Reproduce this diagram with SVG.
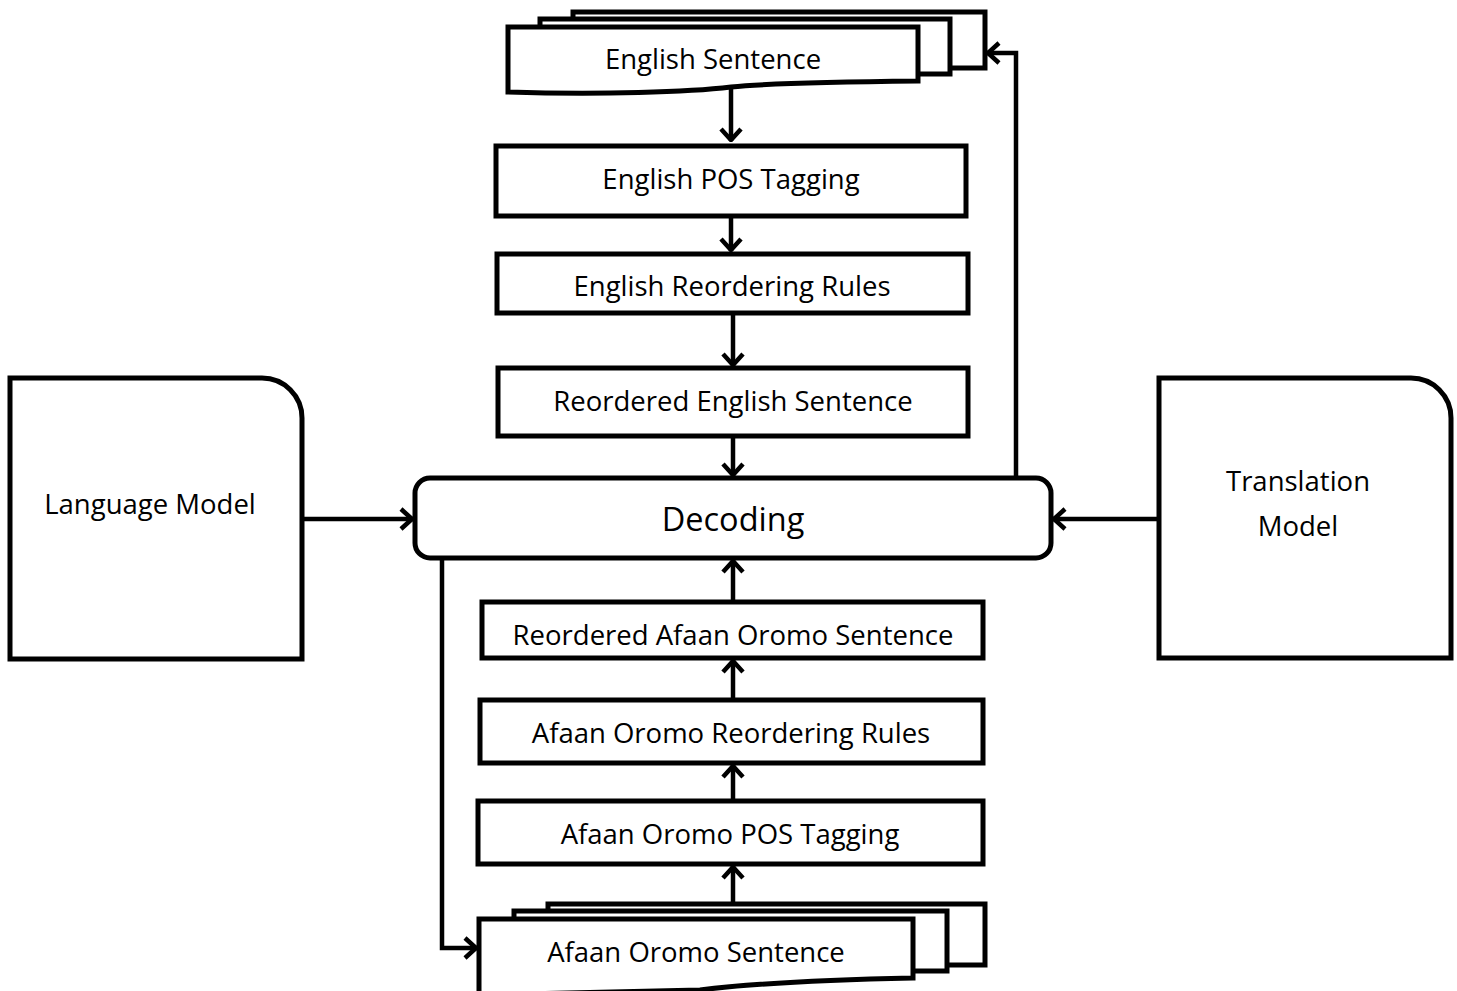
<svg xmlns="http://www.w3.org/2000/svg" width="1457" height="991" viewBox="0 0 1457 991">
<style>
.s{fill:#fff;stroke:#000;stroke-width:5;stroke-linejoin:miter}
.t{font-family:"Open Sans","Noto Sans",sans-serif;font-size:27.5px;fill:#000;text-anchor:middle}
.c{fill:none;stroke:#000;stroke-width:4.5}
</style>
<defs>
<marker id="a" viewBox="0 0 15 24" refX="14" refY="12" markerWidth="15" markerHeight="24" markerUnits="userSpaceOnUse" orient="auto">
<path d="M2,2 L13,12 L2,22" fill="none" stroke="#000" stroke-width="4.5"/>
</marker>
</defs>
<rect width="1457" height="991" fill="#fff"/>
<g id="english-sentence">
<rect class="s" x="573" y="12" width="412" height="56"/>
<rect class="s" x="540" y="19" width="410" height="55"/>
<path class="s" d="M508,27 H918 V81 C820,82 760,84 731,87 C690,92 600,95 508,92 Z"/>
<text class="t" x="713" y="69">English Sentence</text>
</g>
<g id="english-pos">
<rect class="s" x="496" y="146" width="470" height="70"/>
<text class="t" x="731" y="189">English POS Tagging</text>
</g>
<g id="english-reorder">
<rect class="s" x="497" y="254" width="471" height="59"/>
<text class="t" x="732" y="296">English Reordering Rules</text>
</g>
<g id="reordered-english">
<rect class="s" x="498" y="368" width="470" height="68"/>
<text class="t" x="733" y="411">Reordered English Sentence</text>
</g>
<g id="decoding">
<rect class="s" x="415" y="478" width="636" height="80" rx="15"/>
<text class="t" x="733" y="531" style="font-size:32.5px">Decoding</text>
</g>
<g id="language-model">
<path class="s" d="M10,378 H262 A40,40 0 0 1 302,418 V659 H10 Z"/>
<text class="t" x="150" y="514">Language Model</text>
</g>
<g id="translation-model">
<path class="s" d="M1159,378 H1411 A40,40 0 0 1 1451,418 V658 H1159 Z"/>
<text class="t" x="1298" y="491">Translation</text>
<text class="t" x="1298" y="536">Model</text>
</g>
<g id="reordered-oromo">
<rect class="s" x="482" y="602" width="501" height="56"/>
<text class="t" x="733" y="645">Reordered Afaan Oromo Sentence</text>
</g>
<g id="oromo-reorder">
<rect class="s" x="480" y="700" width="503" height="63"/>
<text class="t" x="731" y="743">Afaan Oromo Reordering Rules</text>
</g>
<g id="oromo-pos">
<rect class="s" x="478" y="801" width="505" height="63"/>
<text class="t" x="730" y="844">Afaan Oromo POS Tagging</text>
</g>
<g id="oromo-sentence">
<rect class="s" x="548" y="904" width="437" height="61"/>
<rect class="s" x="514" y="911" width="433" height="60"/>
<path class="s" d="M479,919 H913 V978 C820,980 740,985 700,990 L479,995 Z"/>
<text class="t" x="696" y="962">Afaan Oromo Sentence</text>
</g>
<g id="connectors">
<line class="c" x1="731" y1="88" x2="731" y2="141" marker-end="url(#a)"/>
<line class="c" x1="731" y1="216" x2="731" y2="251" marker-end="url(#a)"/>
<line class="c" x1="733" y1="313" x2="733" y2="366" marker-end="url(#a)"/>
<line class="c" x1="733" y1="436" x2="733" y2="476" marker-end="url(#a)"/>
<line class="c" x1="302" y1="519" x2="413" y2="519" marker-end="url(#a)"/>
<line class="c" x1="1158" y1="519" x2="1053" y2="519" marker-end="url(#a)"/>
<polyline class="c" points="1016,476 1016,53 987,53" marker-end="url(#a)"/>
<polyline class="c" points="442,560 442,948 477,948" marker-end="url(#a)"/>
<line class="c" x1="733" y1="600" x2="733" y2="560" marker-end="url(#a)"/>
<line class="c" x1="733" y1="700" x2="733" y2="660" marker-end="url(#a)"/>
<line class="c" x1="733" y1="801" x2="733" y2="765" marker-end="url(#a)"/>
<line class="c" x1="733" y1="904" x2="733" y2="866" marker-end="url(#a)"/>
</g>
</svg>
